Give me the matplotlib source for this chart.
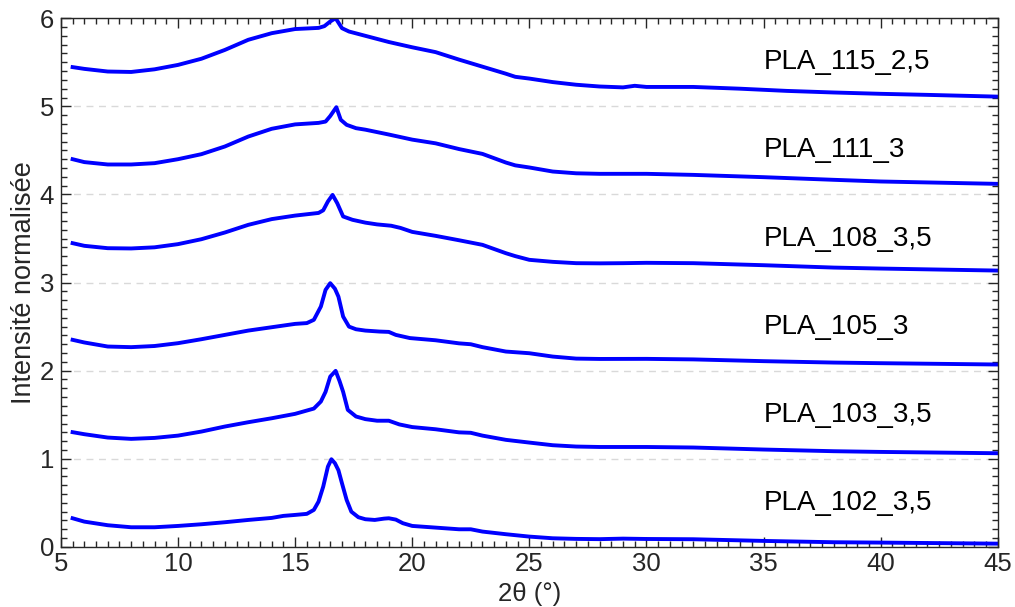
import matplotlib.pyplot as plt
from matplotlib.ticker import MultipleLocator

plt.rcParams['font.family'] = ['Liberation Sans', 'DejaVu Sans']

# Diffractogrammes normalisés, décalés de 1 en intensité
tt_102 = [5.5, 6, 7, 8, 9, 10, 11, 12, 13, 14, 14.5, 15, 15.5, 15.8, 16.0, 16.2, 16.4, 16.55,
          16.7, 16.85, 17.0, 17.2, 17.4, 17.7, 18, 18.4, 18.8, 19.0, 19.3, 19.6, 20, 21, 22,
          22.5, 23, 24, 25, 26, 27, 28, 29, 30, 32, 35, 38, 40, 45]
i_102 = [0.325, 0.287, 0.246, 0.223, 0.223, 0.238, 0.257, 0.28, 0.306, 0.329, 0.352, 0.363,
         0.375, 0.42, 0.514, 0.684, 0.911, 0.995, 0.95, 0.87, 0.723, 0.533, 0.40, 0.337, 0.314,
         0.306, 0.321, 0.325, 0.31, 0.269, 0.238, 0.219, 0.20, 0.20, 0.174, 0.144, 0.117, 0.098,
         0.091, 0.088, 0.094, 0.09, 0.087, 0.068, 0.053, 0.049, 0.037]

tt_103 = [5.5, 6, 7, 8, 9, 10, 11, 12, 13, 14, 15, 15.8, 16.1, 16.3, 16.5, 16.73, 16.9, 17.05,
          17.25, 17.6, 18, 18.5, 19, 19.45, 20, 21, 22, 22.5, 23, 24, 25, 26, 27, 28, 30, 32,
          35, 38, 40, 45]
i_103 = [1.302, 1.279, 1.241, 1.226, 1.237, 1.263, 1.309, 1.366, 1.415, 1.46, 1.51, 1.57,
         1.65, 1.76, 1.933, 1.998, 1.88, 1.76, 1.555, 1.48, 1.45, 1.432, 1.432, 1.39, 1.36,
         1.335, 1.30, 1.295, 1.263, 1.215, 1.184, 1.154, 1.139, 1.134, 1.134, 1.128, 1.105,
         1.086, 1.078, 1.063]

tt_105 = [5.5, 6, 7, 8, 9, 10, 11, 12, 13, 14, 15, 15.5, 15.8, 16.1, 16.3, 16.5, 16.7, 16.85,
          17.05, 17.3, 17.6, 18, 18.6, 19, 19.3, 19.9, 21, 22, 22.5, 23, 24, 25, 26, 27, 28,
          30, 32, 35, 38, 40, 45]
i_105 = [2.35, 2.32, 2.274, 2.267, 2.28, 2.312, 2.357, 2.406, 2.455, 2.493, 2.531, 2.54,
         2.577, 2.728, 2.917, 2.993, 2.93, 2.84, 2.614, 2.50, 2.47, 2.455, 2.444, 2.44, 2.406,
         2.37, 2.345, 2.31, 2.30, 2.267, 2.217, 2.198, 2.16, 2.137, 2.133, 2.134, 2.128, 2.108,
         2.092, 2.085, 2.07]

tt_108 = [5.5, 6, 7, 8, 9, 10, 11, 12, 13, 14, 15, 16, 16.2, 16.4, 16.6, 16.8, 17.05, 17.45,
          18, 18.5, 19.1, 19.5, 20, 21, 22, 23, 24, 24.4, 25, 26, 27, 28, 29, 30, 32, 35, 38,
          40, 45]
i_108 = [3.447, 3.417, 3.39, 3.387, 3.40, 3.436, 3.492, 3.568, 3.655, 3.72, 3.76, 3.79, 3.82,
         3.92, 3.995, 3.90, 3.75, 3.712, 3.68, 3.66, 3.645, 3.62, 3.575, 3.53, 3.48, 3.428,
         3.333, 3.30, 3.258, 3.235, 3.22, 3.218, 3.22, 3.224, 3.22, 3.197, 3.17, 3.159, 3.136]

tt_111 = [5.5, 6, 7, 8, 9, 10, 11, 12, 13, 14, 15, 16, 16.3, 16.5, 16.76, 16.95, 17.2, 17.6,
          18, 19, 20, 21, 22, 23, 24, 24.4, 25, 26, 27, 28, 30, 32, 35, 38, 40, 45]
i_111 = [4.40, 4.367, 4.34, 4.34, 4.355, 4.40, 4.457, 4.544, 4.657, 4.745, 4.795, 4.812,
         4.827, 4.89, 4.99, 4.847, 4.79, 4.752, 4.735, 4.68, 4.622, 4.58, 4.515, 4.46, 4.362,
         4.33, 4.306, 4.26, 4.24, 4.234, 4.234, 4.222, 4.196, 4.166, 4.147, 4.12]

tt_115 = [5.5, 6, 7, 8, 9, 10, 11, 12, 13, 14, 15, 16, 16.25, 16.5, 16.73, 17.0, 17.3, 18, 19,
          20, 21, 22, 23, 24, 24.4, 25, 26, 27, 28, 29, 29.5, 30, 32, 34, 36, 38, 40, 42, 45]
i_115 = [5.445, 5.425, 5.395, 5.39, 5.42, 5.47, 5.54, 5.64, 5.755, 5.83, 5.877, 5.89, 5.91,
         5.963, 6.0, 5.887, 5.849, 5.80, 5.73, 5.67, 5.615, 5.53, 5.45, 5.37, 5.335, 5.315,
         5.275, 5.245, 5.225, 5.215, 5.233, 5.22, 5.22, 5.20, 5.175, 5.157, 5.142, 5.13, 5.11]

echantillons = ['PLA_102_3,5', 'PLA_103_3,5', 'PLA_105_3', 'PLA_108_3,5', 'PLA_111_3', 'PLA_115_2,5']
positions_y = [0.5, 1.5, 2.5, 3.5, 4.5, 5.5]

courbes = [(tt_102, i_102), (tt_103, i_103), (tt_105, i_105),
           (tt_108, i_108), (tt_111, i_111), (tt_115, i_115)]

fig = plt.figure(figsize=(10.15, 6.07), dpi=100)
ax = fig.add_axes([0.060, 0.099, 0.923, 0.871])

for x, y in courbes:
    ax.plot(x, y, color='#0000ff', linewidth=2.8, solid_joinstyle='round')

for nom, yp in zip(echantillons, positions_y):
    ax.text(35, yp, nom, fontsize=20, ha='left', va='center', color='black')

ax.set_xlim(5, 45)
ax.set_ylim(0, 6)
ax.xaxis.set_major_locator(MultipleLocator(5))
ax.xaxis.set_minor_locator(MultipleLocator(0.5))
ax.yaxis.set_major_locator(MultipleLocator(1))
ax.yaxis.set_minor_locator(MultipleLocator(0.1))

ax.yaxis.grid(True, which='major', linestyle=(0, (5, 4)), color='#d9d9d9', linewidth=1)
ax.set_axisbelow(True)

ax.tick_params(which='both', direction='in', top=True, right=True, colors='#262626',
               width=1)
ax.tick_params(which='major', length=7, labelsize=18.5)
ax.tick_params(which='minor', length=4)
ax.tick_params(axis='x', which='major', pad=4)
ax.tick_params(axis='y', which='major', pad=5)

for s in ax.spines.values():
    s.set_color('#262626')
    s.set_linewidth(1)

ax.set_xlabel('2θ (°)', fontsize=18.5, color='#262626')
ax.xaxis.set_label_coords(0.5, -0.066)
ax.set_ylabel('Intensité normalisée', fontsize=19.5, color='#262626', labelpad=2)

fig.savefig('out.png', dpi=100)
